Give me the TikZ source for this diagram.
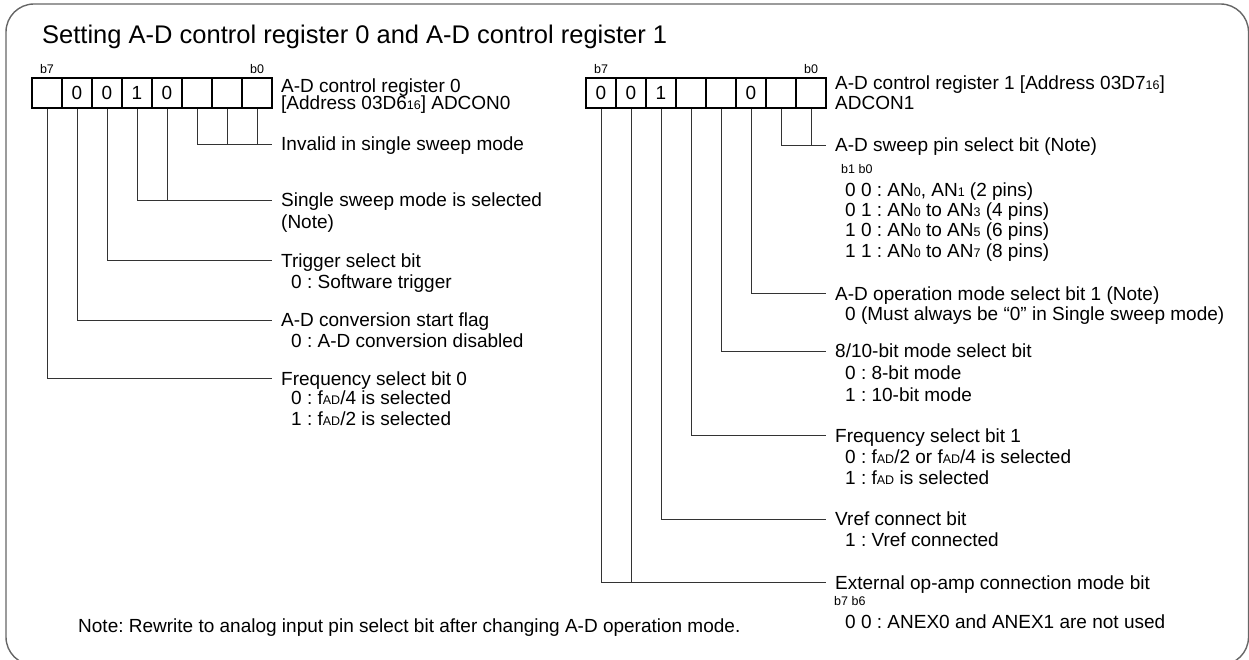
\documentclass[tikz,border=0pt]{standalone}
\usepackage{fontspec}
\setmainfont{Liberation Sans}
\usetikzlibrary{positioning}
\frenchspacing

\newcommand{\subt}[1]{{\fontsize{12.5}{12.5}\selectfont #1}}

\begin{document}
\begin{tikzpicture}[
    x=1pt, y=-1pt,
    font=\fontsize{19}{21}\selectfont,
    cell/.style={rectangle, draw, line width=1.3pt, minimum width=30pt, minimum height=30pt, inner sep=0pt},
    bitno/.style={font=\fontsize{12.5}{13}\selectfont, inner sep=0pt, text height=9pt, text depth=0pt},
    txt/.style={anchor=west, inner sep=0pt, text height=13.6pt, text depth=0pt},
    lbl/.style={txt, inner xsep=9pt},
    small/.style={txt, font=\fontsize{12.5}{13}\selectfont, text height=9pt},
    wire/.style={line width=0.9pt, black!80},
]

\useasboundingbox (0,0) rectangle (1249,660);
\draw[line width=1.4pt, black!60, rounded corners=28pt] (6,4) rectangle (1248.5,665);

% Title
\node[txt, font=\fontsize{25.5}{27}\selectfont, text height=18.3pt] (title) at (42,34) {Setting A-D control register 0 and A-D control register 1};

% Register 0
\foreach \b/\v [count=\k from 0] in {7/,6/0,5/0,4/1,3/0,2/,1/,0/}
    \node[cell] (r0b\b) at ({47+30*\k},93) {\v};
\node[bitno, above=4pt of r0b7] (r0hi) {b7};
\node[bitno, above=4pt of r0b0] (r0lo) {b0};
\node[txt] (r0name) at (281,85.5) {A-D control register 0};
\node[txt] (r0addr) at (281,103) {[Address 03D6\subt{16}] ADCON0};

\node[lbl] (inv) at (272,144) {Invalid in single sweep mode};
\node[lbl] (sng) at (272,200) {Single sweep mode is selected};
\node[txt] (sngn) at (281,222) {(Note)};
\node[lbl] (trg) at (272,260.5) {Trigger select bit};
\node[txt] (trg0) at (291,281.5) {0 : Software trigger};
\node[lbl] (cst) at (272,320) {A-D conversion start flag};
\node[txt] (cst0) at (291,340.5) {0 : A-D conversion disabled};
\node[lbl] (fs0) at (272,378.5) {Frequency select bit 0};
\node[txt] (fs00) at (291,398) {0 : f\subt{AD}/4 is selected};
\node[txt] (fs01) at (291,418.5) {1 : f\subt{AD}/2 is selected};

\draw[wire] (r0b2.south) |- (inv.west);
\draw[wire] (r0b1.south) -- (r0b1.south |- inv.west);
\draw[wire] (r0b0.south) -- (r0b0.south |- inv.west);
\draw[wire] (r0b4.south) |- (sng.west);
\draw[wire] (r0b3.south) -- (r0b3.south |- sng.west);
\draw[wire] (r0b5.south) |- (trg.west);
\draw[wire] (r0b6.south) |- (cst.west);
\draw[wire] (r0b7.south) |- (fs0.west);

% Register 1
\foreach \b/\v [count=\k from 0] in {7/0,6/0,5/1,4/,3/,2/0,1/,0/}
    \node[cell] (r1b\b) at ({601+30*\k},93) {\v};
\node[bitno, above=4pt of r1b7] (r1hi) {b7};
\node[bitno, above=4pt of r1b0] (r1lo) {b0};
\node[txt] (r1name) at (835,83) {A-D control register 1 [Address 03D7\subt{16}]};
\node[txt] (r1addr) at (835,103) {ADCON1};

\node[lbl] (swp) at (826,145) {A-D sweep pin select bit (Note)};
\node[small] (swph) at (841,169.5) {b1 b0};
\node[txt] (swp0) at (845,189.5) {0 0 : AN\subt{0}, AN\subt{1} (2 pins)};
\node[txt] (swp1) at (845,210) {0 1 : AN\subt{0} to AN\subt{3} (4 pins)};
\node[txt] (swp2) at (845,230) {1 0 : AN\subt{0} to AN\subt{5} (6 pins)};
\node[txt] (swp3) at (845,250.5) {1 1 : AN\subt{0} to AN\subt{7} (8 pins)};
\node[lbl] (opm) at (826,293.5) {A-D operation mode select bit 1 (Note)};
\node[txt] (opm0) at (845,313.5) {0 (Must always be “0” in Single sweep mode)};
\node[lbl] (res) at (826,351) {8/10-bit mode select bit};
\node[txt] (res0) at (845,373) {0 : 8-bit mode};
\node[txt] (res1) at (845,394.5) {1 : 10-bit mode};
\node[lbl] (fs1) at (826,435.5) {Frequency select bit 1};
\node[txt] (fs10) at (845,457) {0 : f\subt{AD}/2 or f\subt{AD}/4 is selected};
\node[txt] (fs11) at (845,478) {1 : f\subt{AD} is selected};
\node[lbl] (vref) at (826,519) {Vref connect bit};
\node[txt] (vref1) at (845,539.5) {1 : Vref connected};
\node[lbl] (ext) at (826,582.5) {External op-amp connection mode bit};
\node[small] (exth) at (834,601) {b7 b6};
\node[txt] (ext0) at (845,622) {0 0 : ANEX0 and ANEX1 are not used};

\draw[wire] (r1b1.south) |- (swp.west);
\draw[wire] (r1b0.south) -- (r1b0.south |- swp.west);
\draw[wire] (r1b2.south) |- (opm.west);
\draw[wire] (r1b3.south) |- (res.west);
\draw[wire] (r1b4.south) |- (fs1.west);
\draw[wire] (r1b5.south) |- (vref.west);
\draw[wire] (r1b7.south) |- (ext.west);
\draw[wire] (r1b6.south) -- (r1b6.south |- ext.west);

% Note
\node[txt] (note) at (78,626) {Note: Rewrite to analog input pin select bit after changing A-D operation mode.};

\end{tikzpicture}
\end{document}
